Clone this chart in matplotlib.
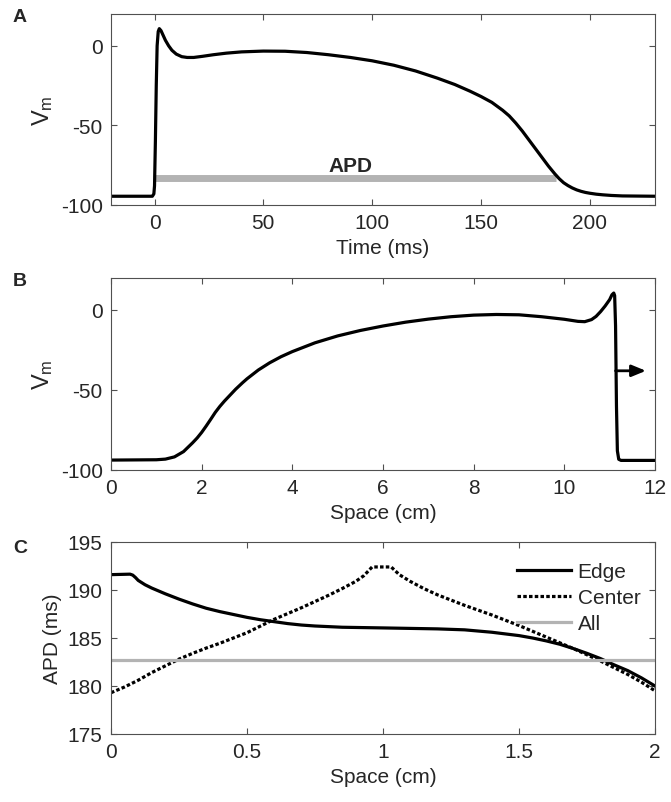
import numpy as np
import matplotlib
matplotlib.use('Agg')
from matplotlib import pyplot as plt

plt.rcParams['font.family'] = ['Liberation Sans', 'DejaVu Sans']
plt.rcParams['mathtext.fontset'] = 'custom'
plt.rcParams['mathtext.rm'] = 'Liberation Sans'
plt.rcParams['mathtext.it'] = 'Liberation Sans'
plt.rcParams['axes.unicode_minus'] = False

# panel A - action potential over time
time_ms = [-20, -1, -0.3, 0, 0.4, 0.8, 1.2, 1.7, 2.2, 3, 4, 5, 6.5, 8, 10, 12.5, 15,
           18, 22, 27, 33, 40, 50, 60, 70, 80, 90, 100, 110, 120, 130, 138, 145,
           150, 155, 160, 163, 166, 169, 172, 175, 178, 181, 184, 186, 188, 190,
           192, 194, 196, 198, 200, 203, 206, 210, 215, 230]
vm_time = [-94.5, -94.5, -93, -88, -60, -25, 0, 9, 10.8, 9.5, 6.5, 3.5, 0, -2.8,
           -5.2, -6.8, -7.3, -7.3, -6.6, -5.6, -4.6, -3.8, -3.3, -3.4, -4.2, -5.6,
           -7.3, -9.4, -12.2, -15.8, -20.3, -24.3, -28.5, -31.8, -35.5, -40.5, -44,
           -48.5, -53.5, -59, -64.5, -70, -75.5, -80.5, -83.5, -86, -87.8, -89.3,
           -90.5, -91.4, -92.1, -92.6, -93.2, -93.6, -94, -94.3, -94.5]
apd_start, apd_end, apd_level = 0.4, 184.3, -83.3

# panel B - action potential over space
space_cm = [0, 1.0, 1.2, 1.4, 1.6, 1.8, 1.9, 2.0, 2.1, 2.2, 2.3, 2.4, 2.5, 2.6,
            2.75, 2.9, 3.0, 3.25, 3.5, 3.75, 4.0, 4.5, 5.0, 5.5, 6.0, 6.5, 7.0,
            7.5, 8.0, 8.5, 9.0, 9.5, 10.0, 10.3, 10.45, 10.6, 10.7, 10.8, 10.9,
            11.0, 11.05, 11.09, 11.11, 11.13, 11.15, 11.17, 11.2, 11.25, 12]
vm_space = [-93.8, -93.6, -93.2, -91.8, -88.5, -83, -80, -76.5, -72.5, -68.3, -64,
            -60.3, -57, -54, -49.5, -45.5, -43, -37.5, -33, -29.2, -26, -20.5,
            -16.2, -12.8, -10, -7.6, -5.7, -4.2, -3.2, -2.8, -3.0, -4.2, -5.8,
            -7.1, -7.3, -6, -4, -1, 2.5, 6.5, 9.5, 10.6, 9, -10, -60, -88, -93.3,
            -94, -94]

# panel C - APD along the cable
pos_edge = [0, 0.07, 0.08, 0.09, 0.1, 0.125, 0.15, 0.2, 0.25, 0.3, 0.35, 0.4,
            0.45, 0.5, 0.55, 0.6, 0.65, 0.7, 0.75, 0.85, 1.0, 1.1, 1.2, 1.3, 1.4,
            1.5, 1.55, 1.6, 1.65, 1.7, 1.75, 1.8, 1.85, 1.9, 1.95, 2.0]
apd_edge = [191.6, 191.65, 191.55, 191.3, 191.0, 190.55, 190.2, 189.6, 189.05,
            188.55, 188.1, 187.75, 187.45, 187.15, 186.9, 186.7, 186.5, 186.35,
            186.25, 186.12, 186.05, 186.0, 185.95, 185.85, 185.6, 185.25, 185.0,
            184.7, 184.35, 183.9, 183.4, 182.85, 182.2, 181.6, 180.85, 180.0]
pos_center = [0, 0.05, 0.1, 0.15, 0.2, 0.25, 0.3, 0.35, 0.4, 0.45, 0.5, 0.55,
              0.6, 0.65, 0.7, 0.75, 0.8, 0.85, 0.9, 0.93, 0.96, 1.03, 1.06, 1.1,
              1.15, 1.2, 1.25, 1.3, 1.35, 1.4, 1.45, 1.5, 1.55, 1.6, 1.65, 1.7,
              1.75, 1.8, 1.85, 1.9, 1.95, 2.0]
apd_center = [179.3, 179.9, 180.6, 181.4, 182.1, 182.8, 183.4, 183.95, 184.45,
              185.0, 185.55, 186.25, 186.95, 187.55, 188.15, 188.8, 189.45,
              190.15, 190.9, 191.5, 192.4, 192.4, 191.6, 190.9, 190.15, 189.5,
              188.95, 188.4, 187.9, 187.4, 186.85, 186.3, 185.7, 185.1, 184.5,
              183.9, 183.25, 182.6, 181.9, 181.2, 180.4, 179.5]
apd_all = 182.7

gray = '#b3b3b3'
frame = '#505050'
txt = '#262626'
fs = 15

fig = plt.figure(figsize=(6.71, 8.03), dpi=100)
W, H = 671.0, 803.0


def make_ax(top, bottom):
    ax = fig.add_axes([111 / W, 1 - bottom / H, 544 / W, (bottom - top) / H])
    for s in ax.spines.values():
        s.set_color(frame)
        s.set_linewidth(0.8)
    ax.tick_params(direction='in', top=True, right=True, length=4, width=0.8,
                   color=frame, labelsize=fs, labelcolor=txt, pad=6)
    return ax


axA = make_ax(15, 206)
axA.plot([apd_start, apd_end], [apd_level, apd_level], color=gray, lw=5,
         solid_capstyle='butt')
axA.plot(time_ms, vm_time, color='k', lw=2.3)
axA.text(90, -75, 'APD', ha='center', va='center', fontsize=fs,
         fontweight='bold', color=txt)
axA.set_xlim(-20, 230)
axA.set_ylim(-100, 20)
axA.set_xticks([0, 50, 100, 150, 200])
axA.set_yticks([-100, -50, 0])
axA.set_xlabel('Time (ms)', fontsize=fs, color=txt)
axA.set_ylabel(r'V$_\mathregular{m}$', fontsize=fs + 2, color=txt)

axB = make_ax(279, 471)
axB.plot(space_cm, vm_space, color='k', lw=2.3)
axB.annotate('', xy=(11.8, -38), xytext=(11.13, -38),
             arrowprops=dict(arrowstyle='-|>,head_length=0.85,head_width=0.35',
                             color='k', lw=2, shrinkA=0, shrinkB=0))
axB.set_xlim(0, 12)
axB.set_ylim(-100, 20)
axB.set_xticks(range(0, 13, 2))
axB.set_yticks([-100, -50, 0])
axB.set_xlabel('Space (cm)', fontsize=fs, color=txt)
axB.set_ylabel(r'V$_\mathregular{m}$', fontsize=fs + 2, color=txt)

axC = make_ax(543, 735)
axC.plot(pos_edge, apd_edge, color='k', lw=2.3, label='Edge')
axC.plot(pos_center, apd_center, color='k', lw=2.3, dashes=(1.1, 0.7),
         label='Center')
axC.plot([0, 2], [apd_all, apd_all], color=gray, lw=2.3, label='All')
axC.set_xlim(0, 2)
axC.set_ylim(175, 195)
axC.set_xticks([0, 0.5, 1, 1.5, 2])
axC.set_xticklabels(['0', '0.5', '1', '1.5', '2'])
axC.set_yticks([175, 180, 185, 190, 195])
axC.set_xlabel('Space (cm)', fontsize=fs, color=txt)
axC.set_ylabel('APD (ms)', fontsize=fs, color=txt)
leg = axC.legend(loc='upper right', bbox_to_anchor=(1.0, 0.97), frameon=False,
                 fontsize=fs, handlelength=2.6, handletextpad=0.3,
                 labelspacing=0.33, borderaxespad=0.3)
for t in leg.get_texts():
    t.set_color(txt)

for lab, y in [('A', 17), ('B', 281), ('C', 549)]:
    fig.text(13 / W, 1 - y / H, lab, fontsize=14, fontweight='bold',
             color=txt, va='center', ha='left')

fig.savefig('out.png', dpi=100)
